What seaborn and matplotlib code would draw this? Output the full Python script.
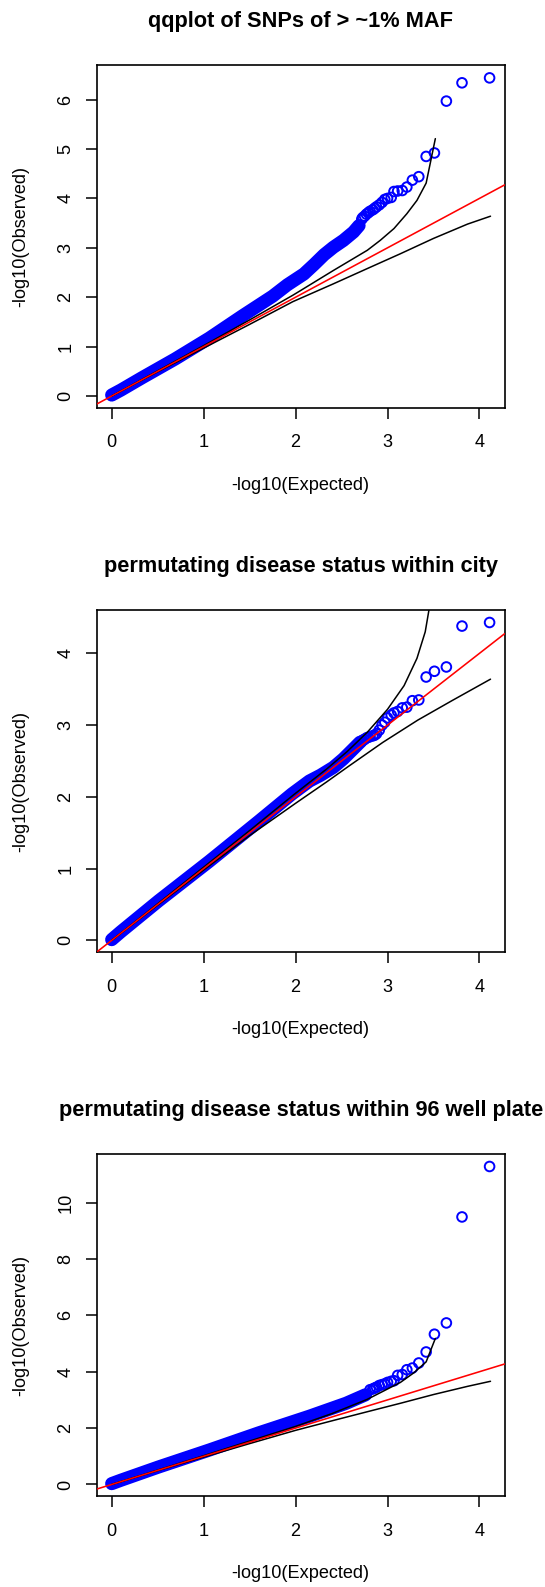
import matplotlib
matplotlib.use("Agg")
import matplotlib.pyplot as plt
import seaborn as sns

# ---------------- data ----------------
titles = [
    "qqplot of SNPs of > ~1% MAF",
    "permutating disease status within city",
    "permutating disease status within 96 well plate",
]
x_label = "-log10(Expected)"
y_label = "-log10(Observed)"
x_ticks = [0, 1, 2, 3, 4]
y_ticks = [[0, 1, 2, 3, 4, 5, 6], [0, 1, 2, 3, 4], [0, 2, 4, 6, 8, 10]]

# reference line (abline)
ref_intercept = 0.0
ref_slope = 1.0

# panel 1 : dense part of the point cloud and the sparse tail
p1_band_x = [0.00, 0.10, 0.33, 0.69, 1.06, 1.42, 1.75, 1.91, 2.09, 2.20, 2.31, 2.41, 2.52, 2.63, 2.69]
p1_band_y = [0.02, 0.12, 0.37, 0.75, 1.17, 1.62, 2.02, 2.25, 2.47, 2.66, 2.86, 3.01, 3.15, 3.32, 3.45]
p1_tail_x = [4.11, 3.81, 3.64, 3.51, 3.42, 3.34, 3.27, 3.21, 3.16, 3.11, 3.07, 3.04, 3.00,
             2.97, 2.94, 2.91, 2.88, 2.86, 2.84, 2.81, 2.79, 2.77, 2.75, 2.73, 2.72]
p1_tail_y = [6.44, 6.34, 5.97, 4.92, 4.85, 4.44, 4.37, 4.23, 4.16, 4.15, 4.14, 4.02, 4.00,
             3.98, 3.92, 3.87, 3.83, 3.80, 3.77, 3.74, 3.71, 3.68, 3.64, 3.61, 3.58]
p1_upper_x = [0.00, 0.50, 1.00, 1.50, 1.97, 2.05, 2.41, 2.78, 2.92, 3.07, 3.21, 3.32, 3.42, 3.52]
p1_upper_y = [0.00, 0.51, 1.02, 1.54, 2.04, 2.13, 2.54, 2.95, 3.15, 3.39, 3.69, 3.96, 4.31, 5.21]
p1_lower_x = [0.00, 0.50, 1.00, 1.50, 1.97, 2.41, 2.78, 3.14, 3.50, 3.87, 4.12]
p1_lower_y = [0.00, 0.49, 0.97, 1.45, 1.91, 2.27, 2.58, 2.88, 3.19, 3.48, 3.64]

# panel 2
p2_band_x = [0.00, 0.10, 0.51, 1.06, 1.60, 1.96, 2.15, 2.27, 2.41, 2.52, 2.63, 2.70]
p2_band_y = [0.01, 0.12, 0.55, 1.10, 1.66, 2.04, 2.22, 2.30, 2.41, 2.53, 2.67, 2.76]
p2_tail_x = [4.11, 3.81, 3.64, 3.51, 3.42, 3.34, 3.27, 3.21, 3.16, 3.11, 3.07, 3.04, 3.00,
             2.97, 2.94, 2.91, 2.88, 2.86, 2.84, 2.81, 2.79, 2.77, 2.75, 2.73, 2.72]
p2_tail_y = [4.43, 4.38, 3.81, 3.75, 3.67, 3.35, 3.34, 3.25, 3.24, 3.19, 3.17, 3.14, 3.10,
             3.04, 3.00, 2.93, 2.88, 2.86, 2.85, 2.84, 2.83, 2.82, 2.80, 2.79, 2.77]
p2_upper_x = [0.00, 0.50, 1.00, 1.50, 1.98, 2.34, 2.56, 2.78, 3.00, 3.18, 3.32, 3.41, 3.45, 3.47]
p2_upper_y = [0.00, 0.51, 1.02, 1.53, 2.03, 2.39, 2.63, 2.90, 3.22, 3.55, 3.93, 4.30, 4.60, 4.85]
p2_lower_x = [0.00, 0.50, 1.00, 1.50, 2.00, 2.34, 2.57, 2.95, 3.33, 3.70, 4.12]
p2_lower_y = [0.00, 0.49, 0.98, 1.46, 1.91, 2.21, 2.42, 2.76, 3.07, 3.34, 3.64]

# panel 3
p3_band_x = [0.00, 0.10, 0.51, 1.06, 1.60, 2.15, 2.55, 2.76]
p3_band_y = [0.03, 0.15, 0.62, 1.22, 1.83, 2.42, 2.88, 3.18]
p3_tail_x = [4.11, 3.81, 3.64, 3.51, 3.42, 3.34, 3.27, 3.21, 3.16, 3.11, 3.07, 3.04, 3.00,
             2.97, 2.94, 2.91, 2.88, 2.86, 2.84, 2.81]
p3_tail_y = [11.28, 9.49, 5.73, 5.33, 4.70, 4.31, 4.13, 4.07, 3.90, 3.87, 3.68, 3.66, 3.62,
             3.57, 3.54, 3.51, 3.45, 3.42, 3.39, 3.36]
p3_upper_x = [0.00, 0.50, 1.00, 1.50, 2.00, 2.40, 2.78, 2.96, 3.14, 3.29, 3.42, 3.52]
p3_upper_y = [0.00, 0.51, 1.02, 1.54, 2.06, 2.52, 3.02, 3.32, 3.62, 3.97, 4.35, 5.18]
p3_lower_x = [0.00, 0.50, 1.00, 1.50, 2.00, 2.41, 2.78, 3.14, 3.50, 3.87, 4.12]
p3_lower_y = [0.00, 0.49, 0.97, 1.45, 1.92, 2.27, 2.58, 2.88, 3.19, 3.48, 3.66]

panels = [
    (p1_band_x, p1_band_y, p1_tail_x, p1_tail_y, p1_upper_x, p1_upper_y, p1_lower_x, p1_lower_y),
    (p2_band_x, p2_band_y, p2_tail_x, p2_tail_y, p2_upper_x, p2_upper_y, p2_lower_x, p2_lower_y),
    (p3_band_x, p3_band_y, p3_tail_x, p3_tail_y, p3_upper_x, p3_upper_y, p3_lower_x, p3_lower_y),
]

# ---------------- style ----------------
sns.set_theme(style="white")
plt.rcParams["font.family"] = ["Liberation Sans", "DejaVu Sans"]

BLUE = "#0000FF"
RED = "#FF0000"
BASE_FS = 13.1
TITLE_FS = 15.7

W, H = 545.0, 1587.0
box_left, box_w, box_h = 96.6, 408.1, 342.5
box_tops = [65.2, 609.8, 1153.8]

fig = plt.figure(figsize=(W / 100, H / 100), dpi=100)
fig.patch.set_facecolor("white")


def r_range(vals):
    lo, hi = min(vals), max(vals)
    pad = 0.04 * (hi - lo)
    return lo - pad, hi + pad


for k, (bx, by, tx, ty, ux, uy, lx, ly) in enumerate(panels):
    top = box_tops[k]
    ax = fig.add_axes([box_left / W, 1 - (top + box_h) / H, box_w / W, box_h / H])
    ax.set_facecolor("white")

    # dense cloud of overlapping open circles
    sns.lineplot(x=bx, y=by, ax=ax, color=BLUE, sort=False, estimator=None, zorder=2)
    band = ax.lines[-1]
    band.set_linewidth(9.5)
    band.set_solid_capstyle("round")
    band.set_solid_joinstyle("round")
    # sparse tail of open circles
    sns.scatterplot(x=tx, y=ty, ax=ax, marker="o", s=48, zorder=2.5)
    coll = ax.collections[-1]
    coll.set_facecolor("none")
    coll.set_edgecolor(BLUE)
    coll.set_linewidth(1.4)

    # confidence envelope
    sns.lineplot(x=ux, y=uy, ax=ax, color="black", linewidth=1.1, sort=False, estimator=None, zorder=3)
    sns.lineplot(x=lx, y=ly, ax=ax, color="black", linewidth=1.1, sort=False, estimator=None, zorder=3)
    # y = x reference line
    ax.axline((0, ref_intercept), slope=ref_slope, color=RED, lw=1.15, zorder=4)

    ax.set_xlim(*r_range(bx + tx))
    ax.set_ylim(*r_range(by + ty))

    ax.set_xticks(x_ticks)
    ax.set_yticks(y_ticks[k])
    ax.set_xticklabels([str(v) for v in x_ticks])
    ax.set_yticklabels([str(v) for v in y_ticks[k]])
    ax.tick_params(axis="both", direction="out", length=7.9, width=1.1, color="black",
                   labelsize=BASE_FS, labelcolor="black", bottom=True, left=True)
    ax.tick_params(axis="x", pad=11)
    ax.tick_params(axis="y", pad=8, labelrotation=90)
    for lab in ax.get_yticklabels():
        lab.set_verticalalignment("center")

    for sp in ax.spines.values():
        sp.set_visible(True)
        sp.set_color("black")
        sp.set_linewidth(1.2)

    ax.set_xlabel(x_label, fontsize=BASE_FS, color="black", va="center", ha="center")
    ax.set_ylabel(y_label, fontsize=BASE_FS, color="black", va="center", ha="center")
    ax.xaxis.set_label_coords(0.5, -77.7 / box_h)
    ax.yaxis.set_label_coords(-75.7 / box_w, 0.5)

    ax.set_title(titles[k], fontsize=TITLE_FS, fontweight="bold", color="black",
                 y=1 + 43.3 / box_h, va="center", pad=0)

fig.savefig("out.png", dpi=100)
